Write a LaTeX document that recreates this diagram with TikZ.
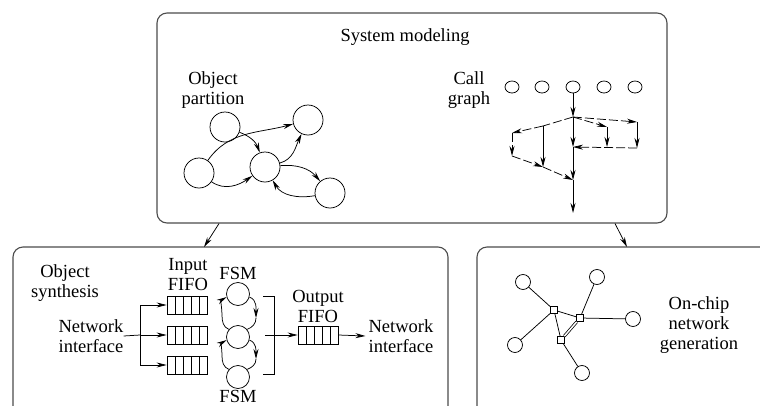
\documentclass[tikz,border=0pt]{standalone}
\usepackage{fontspec}
\setmainfont{Liberation Serif}
\newfontfamily\tmsfont{Liberation Serif}
\usetikzlibrary{arrows.meta,shapes.geometric}
\begin{document}
\begin{tikzpicture}[x=1pt,y=1pt,
  box/.style={draw=black!70, line width=1.1pt, rounded corners=10pt},
  lbl/.style={font=\tmsfont\fontsize{18.5}{20}\selectfont, align=center, inner sep=0pt},
  con/.style={line width=0.75pt},
  arr/.style={con, -{Stealth[length=10pt,width=5pt]}},
  dsh/.style={con, dash pattern=on 9pt off 3pt},
  obj/.style={draw, circle, minimum size=30pt, inner sep=0pt, line width=0.75pt},
  cgn/.style={draw, ellipse, minimum width=14pt, minimum height=12pt, inner sep=0pt, line width=0.75pt},
  fifo/.style={draw, minimum width=40pt, minimum height=18pt, inner sep=0pt, line width=0.75pt,
    path picture={\foreach \k in {1,...,4} \draw[line width=0.75pt] ([xshift=\k*8pt]path picture bounding box.south west) -- ([xshift=\k*8pt]path picture bounding box.north west);}},
  fsm/.style={draw, circle, minimum size=23pt, inner sep=0pt, line width=0.75pt},
  sw/.style={draw, minimum size=7pt, inner sep=0pt, line width=0.75pt},
  pe/.style={draw, circle, minimum size=15pt, inner sep=0pt, line width=0.75pt}
]
\path[use as bounding box] (0,0) rectangle (760,-405);
\clip (0,0) rectangle (760,-405);

% boxes
\node[box, minimum width=510pt, minimum height=210pt, inner sep=0pt] (top) at (412,-118) {};
\draw[box] (13,-430) -- (13,-247) -- (448,-247) -- (448,-430);
\draw[box] (477,-430) -- (477,-247) -- (800,-247);
\coordinate (lb) at (204,-247);
\coordinate (rb) at (627,-247);
\draw[arr] ([xshift=-193pt]top.south) -- (lb);
\draw[arr] ([xshift=203pt]top.south) -- (rb);

% labels
\node[lbl] (sys) at (405,-37) {System modeling};
\node[lbl] (op) at (213,-90) {Object\\partition};
\node[lbl] (cg) at (469,-90) {Call\\graph};
\node[lbl] (os) at (65,-283) {Object\\synthesis};
\node[lbl] (ni1) at (91,-336) {Network\\interface};
\node[lbl] (inf) at (188,-275) {Input\\FIFO};
\node[lbl] (fsmt) at (238,-273) {FSM};
\node[lbl] (fsmb) at (238,-396) {FSM};
\node[lbl] (outf) at (318,-306) {Output\\FIFO};
\node[lbl] (ni2) at (401,-336) {Network\\interface};
\node[lbl] (onc) at (699,-325) {On-chip\\network\\generation};

% object partition
\node[obj] (p1) at (225,-127) {};
\node[obj] (p2) at (308,-120) {};
\node[obj] (p3) at (199,-173) {};
\node[obj] (p4) at (265,-167) {};
\node[obj] (p5) at (330,-193) {};
\draw[arr] (p1) to[out=-20,in=110] (p4);
\draw[arr] (p3) to[out=55,in=195] (p2);
\draw[arr] (p3) to[out=-35,in=215] (p4);
\draw[arr] (p4) to[out=15,in=-115] (p2);
\draw[arr] (p4) to[out=5,in=130] (p5);
\draw[arr] (p5) to[out=190,in=-60] (p4);

% call graph
\node[cgn] (g1) at (512,-87) {};
\node[cgn] (g2) at (542,-87) {};
\node[cgn] (g3) at (573,-87) {};
\node[cgn] (g4) at (604,-87) {};
\node[cgn] (g5) at (635,-87) {};
\coordinate (A) at (573,-117);
\coordinate (B) at (543,-126);
\coordinate (C) at (512,-133);
\coordinate (D) at (512,-156);
\coordinate (E) at (543,-167);
\coordinate (F) at (573,-180);
\coordinate (G) at (607,-127);
\coordinate (H) at (637,-122);
\coordinate (I) at (607,-147);
\coordinate (J) at (637,-148);
\coordinate (K) at (573,-147);
\coordinate (Z) at (573,-213);
\draw[arr] (g3) -- (A);
\draw[arr] (A) -- (K);
\draw[arr] (K) -- (F);
\draw[arr] (F) -- (Z);
\draw[dsh] (A) -- (B);
\draw[dsh,arr] (B) -- (C);
\draw[arr] (B) -- (E);
\draw[dsh,arr] (C) -- (D);
\draw[dsh,arr] (D) -- (E);
\draw[dsh,arr] (E) -- (F);
\draw[dsh,arr] (A) -- (G);
\draw[dsh,arr] (A) -- (H);
\draw[arr] (G) -- (I);
\draw[arr] (H) -- (J);
\draw[dsh,arr] (J) -- (K);

% object synthesis
\node[fifo] (fi1) at (187,-305) {};
\node[fifo] (fi2) at (187,-335) {};
\node[fifo] (fi3) at (187,-365) {};
\coordinate (bt) at (140,-305);
\coordinate (bm) at (140,-335);
\coordinate (bb) at (140,-365);
\draw[con] (ni1.east) -- (bm);
\draw[con] (bt) -- (bb);
\draw[arr] (bt) -- (fi1.west);
\draw[arr] (bm) -- (fi2.west);
\draw[arr] (bb) -- (fi3.west);

\node[fsm] (f1) at (238,-294) {};
\node[fsm] (f2) at (238,-337) {};
\node[fsm] (f3) at (238,-377) {};
\coordinate (lm1) at (222,-315);
\coordinate (rm1) at (256,-318);
\coordinate (lm2) at (222,-356);
\coordinate (rm2) at (256,-359);
\draw[con] (f2.140) to[out=160,in=-90] (lm1);
\draw[arr] (lm1) to[out=90,in=210] (f1.195);
\draw[arr] (f1.-15) to[out=-20,in=90] (rm1);
\draw[con] (rm1) to[out=-90,in=20] (f2.40);
\draw[con] (f3.140) to[out=160,in=-90] (lm2);
\draw[arr] (lm2) to[out=90,in=210] (f2.195);
\draw[arr] (f2.-15) to[out=-20,in=90] (rm2);
\draw[con] (rm2) to[out=-90,in=20] (f3.40);

\draw[con] (263,-296) -- (274,-296) -- (274,-374) -- (263,-374);
\node[fifo] (of) at (318,-335) {};
\coordinate (mx) at (265,-335);
\draw[arr] (mx) -- (of.west);
\draw[arr] (of.east) -- ([xshift=-3pt]ni2.west);

% on-chip network
\node[sw] (s1) at (554,-310) {};
\node[sw] (s2) at (580,-318) {};
\node[sw] (s3) at (561,-340) {};
\node[pe] (c1) at (523,-282) {};
\node[pe] (c2) at (597,-277) {};
\node[pe] (c3) at (633,-319) {};
\node[pe] (c4) at (515,-345) {};
\node[pe] (c5) at (582,-373) {};
\draw[con] (c1) -- (s1);
\draw[con] (c4) -- (s1);
\draw[con] (s1) -- (s2);
\draw[con] (s1) -- (s3);
\draw[con] (s2) -- (c2);
\draw[con] (s2) -- (c3);
\draw[con] (s3) -- (c5);
\draw[con, double, double distance=1.5pt] (s3) -- (s2);
\end{tikzpicture}
\end{document}
